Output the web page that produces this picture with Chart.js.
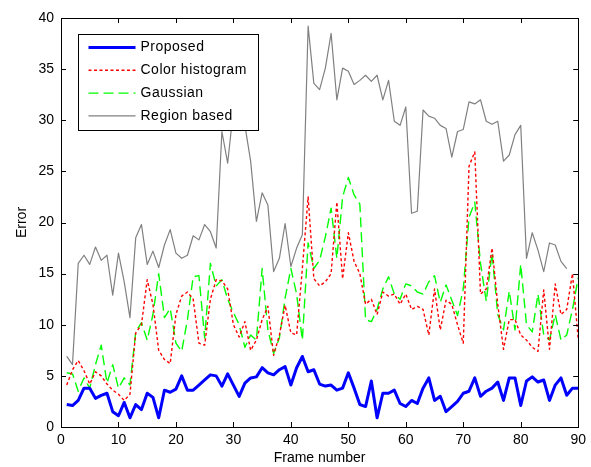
<!DOCTYPE html>
<html>
<head>
<meta charset="utf-8">
<script src="https://cdn.jsdelivr.net/npm/chart.js@4/dist/chart.umd.min.js"></script>
<style>
  html, body { margin: 0; padding: 0; background: #fff; }
  #wrap { width: 591px; height: 467px; }
</style>
</head>
<body>
<div id="wrap"><canvas id="chartErro" width="591" height="467"></canvas></div>
<script>
// frame numbers (x)
const frames = [
  1, 2, 3, 4, 5, 6, 7, 8, 9, 10, 11, 12, 13, 14, 15, 16, 17, 18, 19, 20,
  21, 22, 23, 24, 25, 26, 27, 28, 29, 30, 31, 32, 33, 34, 35, 36, 37, 38, 39, 40,
  41, 42, 43, 44, 45, 46, 47, 48, 49, 50, 51, 52, 53, 54, 55, 56, 57, 58, 59, 60,
  61, 62, 63, 64, 65, 66, 67, 68, 69, 70, 71, 72, 73, 74, 75, 76, 77, 78, 79, 80,
  81, 82, 83, 84, 85, 86, 87, 88, 89, 90
];

// error per frame
const proposed = [
  2.2, 2.1, 2.6, 3.8, 3.8, 2.8, 3.1, 3.3, 1.5, 1.1, 2.4, 0.9, 2.2, 1.7, 3.3, 2.9, 0.9, 3.6, 3.4, 3.7,
  5.0, 3.6, 3.6, 4.1, 4.6, 5.1, 5.0, 4.0, 5.2, 4.1, 3.0, 4.3, 4.8, 4.9, 5.8, 5.3, 5.1, 5.6, 5.9, 4.1,
  5.8, 6.9, 5.4, 5.6, 4.2, 4.0, 4.1, 3.6, 3.8, 5.3, 3.8, 2.2, 2.0, 4.5, 0.9, 3.3, 3.3, 3.6, 2.3, 2.0,
  2.6, 2.3, 3.8, 4.8, 2.6, 3.0, 1.5, 2.0, 2.5, 3.3, 3.5, 4.8, 3.0, 3.5, 3.8, 4.4, 2.6, 4.8, 4.8, 2.1,
  4.5, 4.9, 4.4, 4.6, 2.6, 4.1, 4.8, 3.1, 3.8, 3.8
];

const colorHist = [
  4.1, 5.6, 6.5, 5.5, 4.2, 5.4, 5.0, 4.2, 3.6, 3.2, 2.6, 3.2, 9.2, 10.0, 14.4, 12.0, 7.5, 6.6, 6.2, 11.0,
  12.8, 13.2, 12.5, 8.2, 8.0, 12.5, 14.4, 14.3, 13.5, 10.0, 8.8, 10.3, 7.5, 8.5, 10.5, 11.8, 7.0, 9.0, 11.9, 9.2,
  9.0, 15.5, 22.5, 14.5, 13.8, 14.2, 15.0, 22.0, 14.5, 19.0, 16.2, 15.0, 12.0, 12.5, 11.0, 13.2, 12.8, 13.0, 12.0, 13.0,
  11.5, 11.8, 11.5, 9.0, 13.5, 9.5, 12.4, 12.0, 10.0, 8.2, 25.5, 26.9, 13.0, 13.5, 17.5, 12.0, 7.6, 10.5, 10.5, 9.0,
  8.5, 7.8, 7.4, 13.4, 7.6, 14.0, 11.0, 11.5, 15.0, 8.6
];

const gaussian = [
  5.3, 5.2, 3.5, 4.8, 3.8, 6.1, 8.0, 4.3, 6.1, 3.8, 4.8, 4.1, 9.3, 10.2, 8.5, 11.0, 15.0, 10.7, 11.6, 8.2,
  7.4, 10.5, 14.7, 14.8, 8.7, 16.0, 13.8, 14.4, 12.5, 11.2, 10.0, 7.8, 9.0, 8.5, 15.5, 9.5, 7.2, 8.7, 12.6, 15.5,
  13.0, 8.5, 18.0, 15.5, 16.3, 18.6, 21.4, 16.5, 22.5, 24.4, 22.7, 21.8, 10.5, 10.3, 11.5, 13.5, 14.7, 13.0, 12.5, 14.0,
  13.8, 13.2, 13.0, 14.2, 14.8, 12.2, 13.9, 12.4, 10.9, 13.5, 20.5, 22.0, 16.0, 12.3, 17.0, 11.0, 9.5, 13.3, 9.5, 15.9,
  10.0, 9.3, 13.0, 9.0, 8.5, 11.0, 8.5, 9.0, 11.5, 14.6
];

const regionBased = [
  6.9, 6.1, 16.0, 16.8, 15.9, 17.6, 16.3, 16.8, 12.9, 17.0, 14.2, 10.7, 18.5, 19.8, 15.9, 17.2, 15.6, 17.8, 19.3, 17.0,
  16.5, 16.8, 18.7, 18.3, 19.8, 19.1, 17.5, 28.9, 25.8, 31.0, 30.5, 29.5, 26.0, 20.1, 22.9, 21.7, 15.2, 16.5, 19.9, 15.7,
  17.5, 18.8, 39.2, 33.6, 33.0, 35.1, 38.5, 32.0, 35.1, 34.8, 33.5, 33.9, 34.4, 33.8, 34.4, 32.0, 33.9, 29.9, 29.5, 31.3,
  20.9, 21.1, 31.0, 30.4, 30.2, 29.5, 29.2, 26.4, 28.9, 29.1, 31.8, 31.6, 32.0, 29.9, 29.6, 29.9, 26.0, 26.6, 28.6, 29.5,
  16.5, 19.0, 17.3, 15.2, 18.0, 17.8, 16.2, 15.5, null, null
];

const FONT = "'Liberation Sans', Arial, Helvetica, sans-serif";
const TICK = 5;

// caixa estilo matlab + ticks para dentro
const matlabBox = {
  id: "matlabBox",
  afterDatasetsDraw(chart) {
    const { ctx, chartArea: a, scales } = chart;
    ctx.save();
    ctx.strokeStyle = "#000";
    ctx.lineWidth = 1;
    ctx.beginPath();
    scales.x.ticks.forEach(t => {
      const px = Math.round(scales.x.getPixelForValue(t.value)) + 0.5;
      ctx.moveTo(px, a.bottom); ctx.lineTo(px, a.bottom - TICK);
      ctx.moveTo(px, a.top); ctx.lineTo(px, a.top + TICK);
    });
    scales.y.ticks.forEach(t => {
      const py = Math.round(scales.y.getPixelForValue(t.value)) + 0.5;
      ctx.moveTo(a.left, py); ctx.lineTo(a.left + TICK, py);
      ctx.moveTo(a.right, py); ctx.lineTo(a.right - TICK, py);
    });
    ctx.stroke();
    ctx.strokeRect(Math.round(a.left) + 0.5, Math.round(a.top) + 0.5,
      Math.round(a.right - a.left), Math.round(a.bottom - a.top));

    // legenda dentro do grafico
    const bx = Math.round(a.left) + 17.5, by = Math.round(a.top) + 16.5;
    const bw = 180, bh = 96;
    ctx.fillStyle = "#fff";
    ctx.fillRect(bx, by, bw, bh);
    ctx.strokeRect(bx, by, bw, bh);
    ctx.font = "14px " + FONT;
    ctx.textBaseline = "middle";
    ctx.textAlign = "left";
    if ("letterSpacing" in ctx) ctx.letterSpacing = "0.5px";
    chart.data.datasets.forEach((ds, i) => {
      const y = by + 13 + i * 22.8;
      ctx.save();
      ctx.strokeStyle = ds.borderColor;
      ctx.lineWidth = ds.borderWidth;
      ctx.setLineDash(ds.borderDash || []);
      ctx.beginPath();
      ctx.moveTo(bx + 10, y);
      ctx.lineTo(bx + 57, y);
      ctx.stroke();
      ctx.restore();
      ctx.fillStyle = "#000";
      ctx.fillText(ds.label, bx + 62, y);
    });
    ctx.restore();
  }
};

new Chart(document.getElementById("chartErro"), {
  type: "line",
  data: {
    labels: frames,
    datasets: [
      { label: "Proposed", data: proposed, borderColor: "#0000ff", borderWidth: 3 },
      { label: "Color histogram", data: colorHist, borderColor: "#ff0000", borderWidth: 1.4, borderDash: [3, 2.5] },
      { label: "Gaussian", data: gaussian, borderColor: "#00ff00", borderWidth: 1.4, borderDash: [10, 5] },
      { label: "Region based", data: regionBased, borderColor: "#808080", borderWidth: 1.2 }
    ]
  },
  options: {
    responsive: false,
    animation: false,
    devicePixelRatio: 1,
    spanGaps: false,
    elements: {
      point: { radius: 0, hoverRadius: 0 },
      line: { tension: 0, borderJoinStyle: "round" }
    },
    layout: { padding: { top: 18, right: 8, left: 0, bottom: 0 } },
    plugins: {
      legend: { display: false },
      tooltip: { enabled: false }
    },
    scales: {
      x: {
        type: "linear",
        min: 0,
        max: 90,
        afterFit: (s) => { s.height = 40; },
        grid: { display: false, drawTicks: false },
        border: { display: false },
        ticks: { stepSize: 10, padding: 5, color: "#000", font: { size: 14, family: FONT }, maxRotation: 0 },
        title: { display: true, text: "Frame number", color: "#000", font: { size: 14, family: FONT }, padding: 0 }
      },
      y: {
        min: 0,
        max: 40,
        afterFit: (s) => { s.width = 61; },
        grid: { display: false, drawTicks: false },
        border: { display: false },
        ticks: { stepSize: 5, padding: 7, color: "#000", font: { size: 14, family: FONT } },
        title: { display: true, text: "Error", color: "#000", font: { size: 14, family: FONT }, padding: { top: 14, bottom: 0 } }
      }
    }
  },
  plugins: [matlabBox]
});
</script>
</body>
</html>
